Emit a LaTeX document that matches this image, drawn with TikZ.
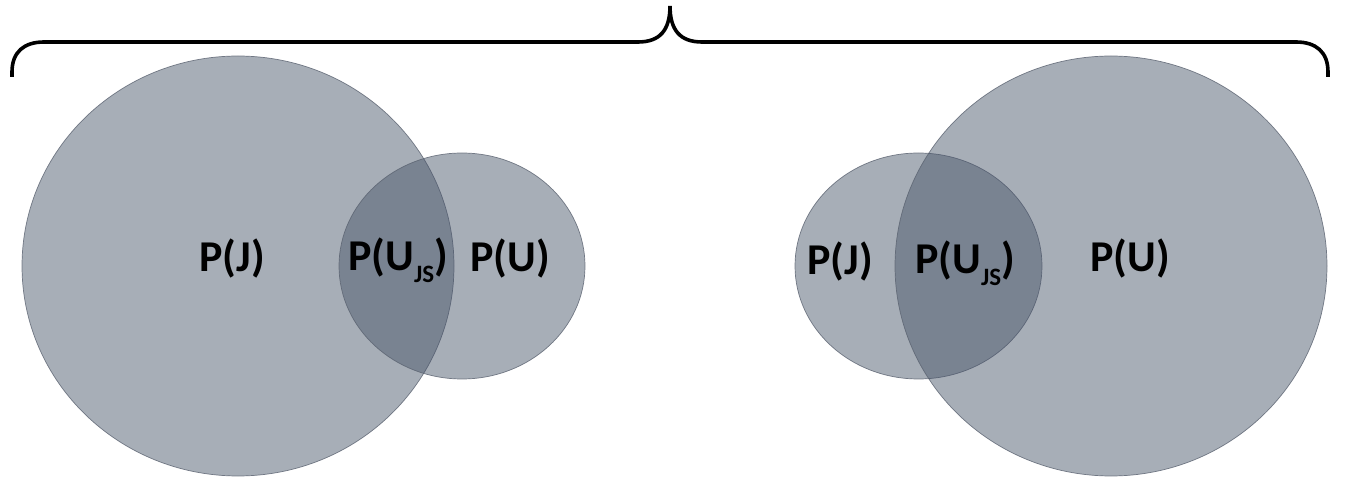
\documentclass[tikz,border=0pt]{standalone}
\usepackage{fontspec}
\setmainfont{Carlito}
\definecolor{vennfill}{RGB}{70,83,104}
\definecolor{vennline}{RGB}{90,98,112}
\newcommand{\subJS}{\raisebox{-0.27em}{\fontsize{25}{25}\selectfont JS}}
\begin{document}
\begin{tikzpicture}[x=1pt,y=-1pt,
  venn/.style={fill=vennfill,fill opacity=0.47,draw=vennline,draw opacity=0.8,line width=0.7pt},
  lbl/.style={inner sep=0pt,font=\fontsize{44}{44}\selectfont\bfseries,text=black},
  bracepath/.style={line width=3.6pt,draw=black,line cap=butt}]
\useasboundingbox[fill=white] (0,0) rectangle (1345,478);
% left group
\path[venn] (238,266) ellipse [x radius=216,y radius=210];
\path[venn] (462,266) ellipse [x radius=123,y radius=113];
% right group
\path[venn] (918.5,266) ellipse [x radius=123.5,y radius=113];
\path[venn] (1111,266) ellipse [x radius=216,y radius=210];
% labels
\node[lbl] (lj) at (232,259) {P(J)};
\node[lbl] (lujs) at (398,260) {P(U\subJS)};
\node[lbl] (lu) at (510,259) {P(U)};
\node[lbl] (rj) at (840,262) {P(J)};
\node[lbl] (rujs) at (965,263) {P(U\subJS)};
\node[lbl] (ru) at (1130,259) {P(U)};
% brace
\coordinate (bl) at (12,77);
\coordinate (bt) at (670,6);
\coordinate (br) at (1328,77);
\draw[bracepath] (bl) -- (12,72) .. controls (12,52) and (24,42) .. (44,42)
  -- (638,42) .. controls (660,42) and (670,30) .. (bt)
  .. controls (670,30) and (680,42) .. (702,42)
  -- (1296,42) .. controls (1316,42) and (1328,52) .. (1328,72) -- (br);
\end{tikzpicture}
\end{document}
